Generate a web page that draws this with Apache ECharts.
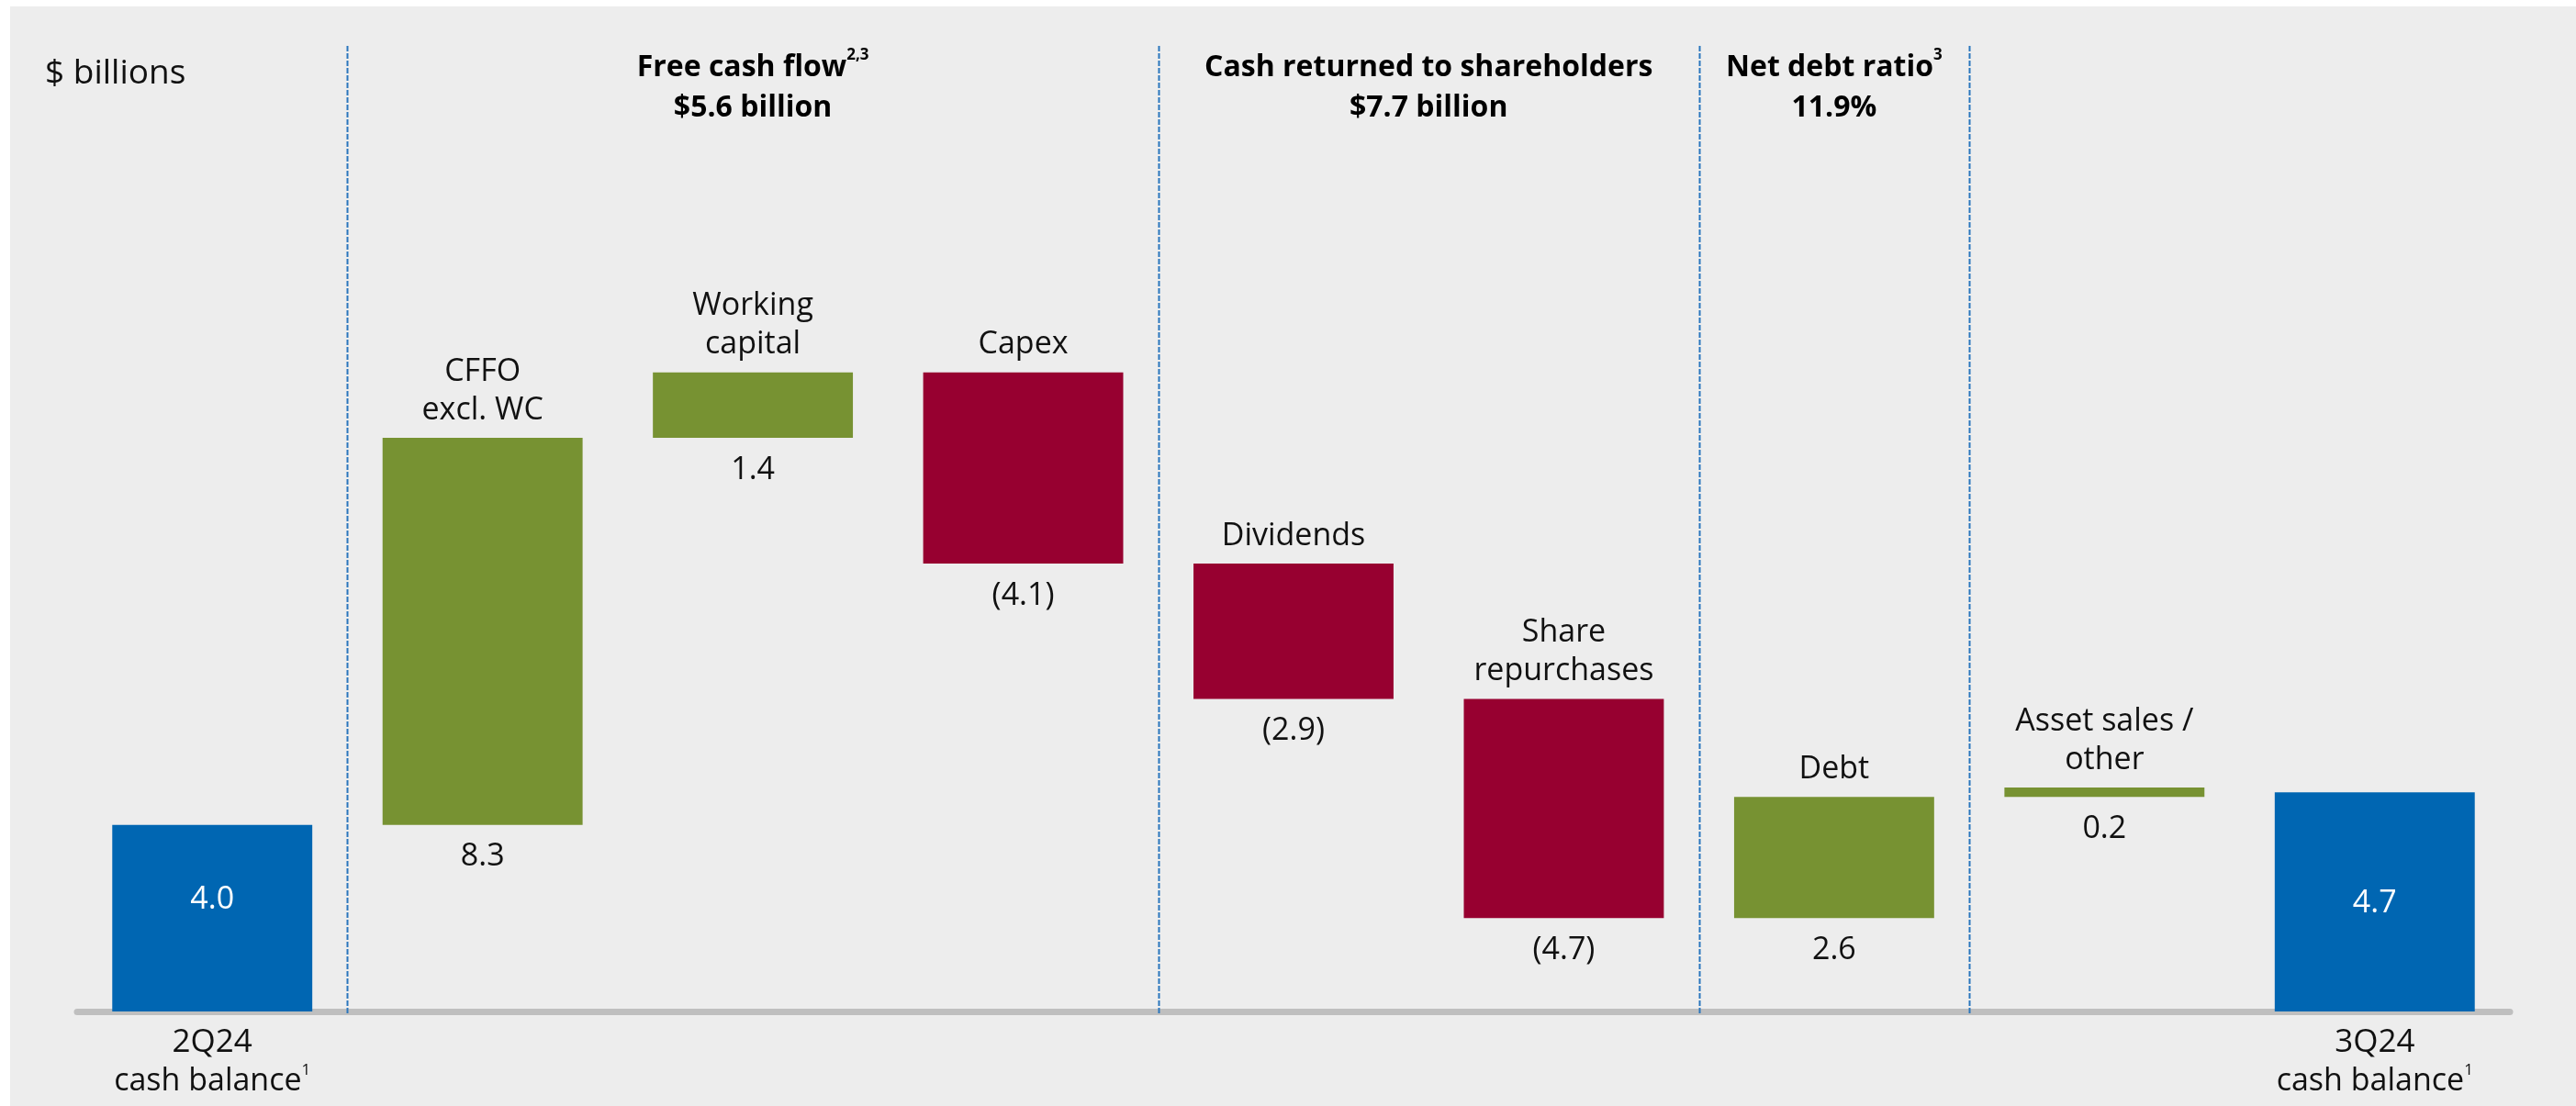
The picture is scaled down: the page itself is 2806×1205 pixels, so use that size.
<!DOCTYPE html>
<html>
<head>
<meta charset="utf-8">
<title>Cash flow bridge, 2Q24 to 3Q24</title>
<script src="https://cdn.jsdelivr.net/npm/echarts@6/dist/echarts.min.js"></script>
<style>
  html, body { margin: 0; padding: 0; background: #ffffff; }
  #chart {
    width: 2806px;
    height: 1205px;
    background: linear-gradient(#ededed, #ededed) 11px 7px / 100% 100% no-repeat, #ffffff;
  }
</style>
</head>
<body>
<div id="chart"></div>
<script>
// ---- data ($ billions) ----
const categories = ['2Q24 cash balance', 'CFFO excl. WC', 'Working capital', 'Capex', 'Dividends',
                    'Share repurchases', 'Debt', 'Asset sales / other', '3Q24 cash balance'];
const barNames   = ['', 'CFFO\nexcl. WC', 'Working\ncapital', 'Capex', 'Dividends',
                    'Share\nrepurchases', 'Debt', 'Asset sales /\nother', ''];
const axisTitles = ['2Q24', '', '', '', '', '', '', '', '3Q24'];
const axisSubtitles = ['cash balance', '', '', '', '', '', '', '', 'cash balance'];
const axisNotes  = ['1', '', '', '', '', '', '', '', '1'];
const values     = [4.0, 8.3, 1.4, -4.1, -2.9, -4.7, 2.6, 0.2, 4.7];
const kinds      = ['total', 'delta', 'delta', 'delta', 'delta', 'delta', 'delta', 'delta', 'total'];

// header groups above the bars (category index ranges)
const sectionFirst = [1, 4, 6];
const sectionLast  = [3, 5, 6];
const sectionTitle = ['Free cash flow', 'Cash returned to shareholders', 'Net debt ratio'];
const sectionNote  = ['2,3', '', '3'];
const sectionValue = ['$5.6 billion', '$7.7 billion', '11.9%'];
// dashed dividers sit on the left edge of these categories
const dividerBefore = [1, 4, 6, 7];

const FONT = "'Open Sans', 'Noto Sans', sans-serif";
const COLORS = { total: '#0066b2', up: '#779232', down: '#970030' };

// waterfall: invisible base + visible bar
const base = [];
const shown = [];
let running = 0;
values.forEach((v, i) => {
  if (kinds[i] === 'total') {
    base.push(0);
    shown.push(v);
    running = v;
  } else {
    const next = Math.round((running + v) * 10) / 10;
    base.push(v >= 0 ? running : next);
    shown.push(Math.abs(v));
    running = next;
  }
});

const fmt = v => (v < 0 ? '(' + Math.abs(v).toFixed(1) + ')' : v.toFixed(1));
const barColor = i => (kinds[i] === 'total' ? COLORS.total : values[i] >= 0 ? COLORS.up : COLORS.down);

const chart = echarts.init(document.getElementById('chart'), null, { renderer: 'canvas' });

chart.setOption({
  animation: false,
  backgroundColor: 'transparent',
  grid: { left: 84, right: 72, top: 50, bottom: 103, containLabel: false },
  xAxis: {
    type: 'category',
    data: categories,
    boundaryGap: true,
    offset: 3.5,
    axisTick: { show: false },
    splitLine: { show: false },
    axisLine: { lineStyle: { color: '#bfbfbf', width: 7 } },
    axisLabel: {
      interval: 0,
      margin: 10,
      formatter: (val, i) => axisTitles[i]
        ? '{q|' + axisTitles[i] + '}\n{c|' + axisSubtitles[i] + '}{s|' + axisNotes[i] + '}'
        : '',
      rich: {
        q: { fontFamily: FONT, fontSize: 35, lineHeight: 42, color: '#111' },
        c: { fontFamily: FONT, fontSize: 34, lineHeight: 42, color: '#111' },
        s: { fontFamily: FONT, fontSize: 17, lineHeight: 12, color: '#111', verticalAlign: 'top' }
      }
    }
  },
  yAxis: { type: 'value', min: 0, max: 20.7, show: false },
  series: [
    {
      // dashed dividers between the groups, on category band edges
      name: 'dividers',
      type: 'custom',
      silent: true,
      z: 1,
      clip: false,
      encode: { x: 0, y: 1 },
      data: dividerBefore.map(i => [i, 0]),
      renderItem: (params, api) => {
        const pt = api.coord([api.value(0), 0]);
        const band = api.size([1, 0])[0];
        const x = Math.round(pt[0] - band / 2) + 0.5;
        return {
          type: 'line',
          shape: { x1: x, y1: params.coordSys.y, x2: x, y2: params.coordSys.y + params.coordSys.height + 2 },
          style: { stroke: '#2a76bd', lineWidth: 2, lineDash: [6, 2] }
        };
      }
    },
    {
      name: 'base',
      type: 'bar',
      stack: 'bridge',
      silent: true,
      barCategoryGap: '26%',
      itemStyle: { color: 'transparent' },
      emphasis: { disabled: true },
      label: {
        show: true,
        position: 'insideTop',
        distance: 15,
        fontFamily: FONT,
        fontSize: 34,
        lineHeight: 40,
        color: '#111',
        formatter: p => (kinds[p.dataIndex] === 'delta' ? fmt(values[p.dataIndex]) : '')
      },
      data: base
    },
    {
      name: 'value',
      type: 'bar',
      stack: 'bridge',
      silent: true,
      barCategoryGap: '26%',
      emphasis: { disabled: true },
      label: {
        show: true,
        position: 'top',
        distance: 9,
        fontFamily: FONT,
        fontSize: 34,
        lineHeight: 42,
        color: '#111',
        formatter: p => (kinds[p.dataIndex] === 'total' ? fmt(values[p.dataIndex]) : barNames[p.dataIndex])
      },
      data: shown.map((s, i) => {
        const item = { value: s, itemStyle: { color: barColor(i) } };
        if (kinds[i] === 'total') {
          item.label = { position: 'inside', color: '#ffffff', offset: i === 0 ? [0, -20] : [0, 2] };
        }
        return item;
      })
    }
  ]
});

// headers centred over their category groups, plus the unit note
const graphics = [{
  type: 'text',
  silent: true,
  style: {
    x: 49, y: 80,
    text: '$ billions',
    fontFamily: FONT, fontSize: 37, fontWeight: 400,
    fill: '#111',
    align: 'left', verticalAlign: 'middle'
  }
}];
sectionTitle.forEach((t, k) => {
  const x0 = chart.convertToPixel({ xAxisIndex: 0 }, sectionFirst[k]);
  const x1 = chart.convertToPixel({ xAxisIndex: 0 }, sectionLast[k]);
  graphics.push({
    type: 'text',
    silent: true,
    style: {
      x: (x0 + x1) / 2, y: 52,
      align: 'center', verticalAlign: 'top',
      text: '{b|' + t + '}' + (sectionNote[k] ? '{s|' + sectionNote[k] + '}' : '') + '\n{b|' + sectionValue[k] + '}',
      rich: {
        b: { fontFamily: FONT, fontWeight: 'bold', fontSize: 32, lineHeight: 44, fill: '#000' },
        s: { fontFamily: FONT, fontWeight: 'bold', fontSize: 17, lineHeight: 8, fill: '#000', verticalAlign: 'top' }
      }
    }
  });
});
chart.setOption({ graphic: graphics });
</script>
</body>
</html>
